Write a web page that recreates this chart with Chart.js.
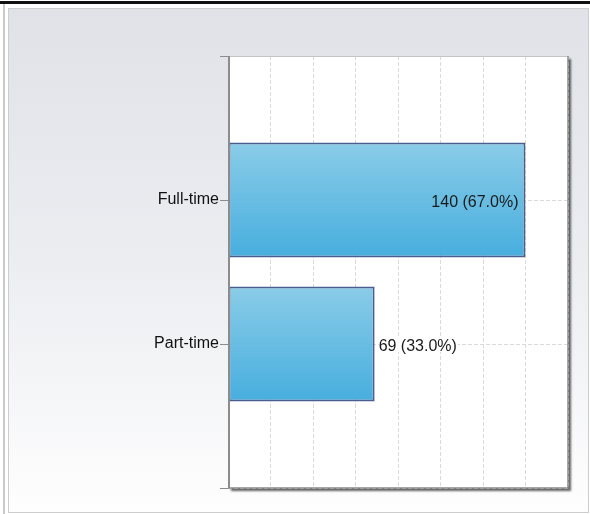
<!DOCTYPE html>
<html>
<head>
<style>
  html, body { margin: 0; padding: 0; background: #fff; }
  #wrap { width: 590px; height: 514px; }
</style>
</head>
<body>
<div id="wrap"><canvas id="chart" width="590" height="514"></canvas></div>

<script src="https://cdn.jsdelivr.net/npm/chart.js"></script>
<script>
    // employment type counts
    const categories = ['Full-time', 'Part-time'];
    const counts = [140, 69];
    const axisMin = 0;
    const axisMax = 160;
    const axisStep = 20;

    const total = counts.reduce((a, b) => a + b, 0);
    // blank slots above and below so each bar sits a third of the way down
    const labels = [''].concat(categories, ['']);
    const values = [null].concat(counts, [null]);

    const FONT = '16px "Liberation Sans", Arial, sans-serif';

    function barGradient(ctx) {
        const chart = ctx.chart;
        const y = chart.scales.y;
        if (!y || ctx.dataIndex == null) return '#62bde4';
        const half = (y.getPixelForValue(1) - y.getPixelForValue(0)) * 0.8 / 2;
        const c = y.getPixelForValue(ctx.dataIndex);
        if (!isFinite(half) || !isFinite(c)) return '#62bde4';
        const g = chart.ctx.createLinearGradient(0, c - half, 0, c + half);
        g.addColorStop(0, '#8acce8');
        g.addColorStop(1, '#47aede');
        return g;
    }

    // panel background, frame and the white plot box with its shadow
    const framePlugin = {
        id: 'frame',
        beforeDraw(chart) {
            const ctx = chart.ctx;
            const a = chart.chartArea;
            ctx.save();
            ctx.fillStyle = '#ffffff';
            ctx.fillRect(0, 0, 590, 514);
            ctx.fillStyle = '#111111';
            ctx.fillRect(0, 1, 590, 3);
            ctx.fillStyle = '#cacaca';
            ctx.fillRect(3, 4, 2, 510);

            const bg = ctx.createLinearGradient(0, 8, 0, 513);
            bg.addColorStop(0, '#e1e2e7');
            bg.addColorStop(0.5, '#ecedf1');
            bg.addColorStop(1, '#fefefe');
            ctx.fillStyle = bg;
            ctx.fillRect(8, 8, 581, 505);
            ctx.strokeStyle = '#cdcdcd';
            ctx.lineWidth = 1;
            ctx.strokeRect(8.5, 8.5, 580, 504);

            ctx.shadowColor = 'rgba(0,0,0,0.6)';
            ctx.shadowOffsetX = 3;
            ctx.shadowOffsetY = 3;
            ctx.shadowBlur = 2;
            ctx.fillStyle = '#ffffff';
            ctx.fillRect(a.left, a.top, a.right - a.left, a.bottom - a.top);
            ctx.restore();
        },
        afterDraw(chart) {
            const ctx = chart.ctx;
            const a = chart.chartArea;
            ctx.save();
            ctx.strokeStyle = '#c4c4c4';
            ctx.lineWidth = 1;
            ctx.beginPath();
            ctx.moveTo(a.left, a.top + 0.5);
            ctx.lineTo(a.right, a.top + 0.5);
            ctx.stroke();
            ctx.strokeStyle = '#8a8a8a';
            ctx.lineWidth = 1.5;
            ctx.beginPath();
            ctx.moveTo(a.right, a.top);
            ctx.lineTo(a.right, a.bottom);
            ctx.lineTo(a.left, a.bottom);
            ctx.stroke();
            ctx.strokeStyle = '#8c8c8c';
            ctx.lineWidth = 2;
            ctx.beginPath();
            ctx.moveTo(a.left + 1, a.top);
            ctx.lineTo(a.left + 1, a.bottom);
            ctx.stroke();
            ctx.restore();
        }
    };

    // "count (percent)" next to each bar, inside when the bar is long enough
    const valueLabels = {
        id: 'valueLabels',
        afterDatasetsDraw(chart) {
            const ctx = chart.ctx;
            const a = chart.chartArea;
            const meta = chart.getDatasetMeta(0);
            ctx.save();
            ctx.font = FONT;
            ctx.textBaseline = 'middle';
            meta.data.forEach((bar, i) => {
                const v = values[i];
                if (v == null) return;
                const text = v + ' (' + (v / total * 100).toFixed(1) + '%)';
                const w = ctx.measureText(text).width;
                const ty = bar.y + 3;
                if (bar.x - bar.base > (a.right - a.left) / 2) {
                    ctx.textAlign = 'right';
                    ctx.fillStyle = '#1a1a1a';
                    ctx.fillText(text, bar.x - 7, ty);
                } else {
                    ctx.fillStyle = '#ffffff';
                    ctx.fillRect(bar.x + 4, bar.y - 8, w + 1, 16);
                    ctx.textAlign = 'left';
                    ctx.fillStyle = '#1a1a1a';
                    ctx.fillText(text, bar.x + 4, ty);
                }
            });
            ctx.restore();
        }
    };

    new Chart(document.getElementById('chart'), {
        type: 'bar',
        data: {
            labels: labels,
            datasets: [{
                data: values,
                backgroundColor: barGradient,
                borderColor: '#4a5f8e',
                borderWidth: 2,
                borderSkipped: false,
                categoryPercentage: 0.8,
                barPercentage: 1.0
            }]
        },
        options: {
            indexAxis: 'y',
            responsive: false,
            animation: false,
            devicePixelRatio: 1,
            layout: { padding: { left: 0, top: 56, right: 22, bottom: 26 } },
            plugins: {
                legend: { display: false },
                tooltip: { enabled: false }
            },
            scales: {
                x: {
                    type: 'linear',
                    min: axisMin,
                    max: axisMax,
                    ticks: { display: false, stepSize: axisStep },
                    grid: { color: '#dadada', drawTicks: false },
                    border: { display: false, dash: [4, 2] }
                },
                y: {
                    type: 'category',
                    offset: false,
                    afterFit(scale) { scale.width = 228; },
                    ticks: {
                        color: '#111111',
                        font: { family: '"Liberation Sans", Arial, sans-serif', size: 16 },
                        padding: 1
                    },
                    grid: {
                        offset: false,
                        color: '#dadada',
                        tickColor: '#8c8c8c',
                        tickLength: 8
                    },
                    border: { display: false, dash: [4, 2] }
                }
            }
        },
        plugins: [framePlugin, valueLabels]
    });
</script>
</body>
</html>
